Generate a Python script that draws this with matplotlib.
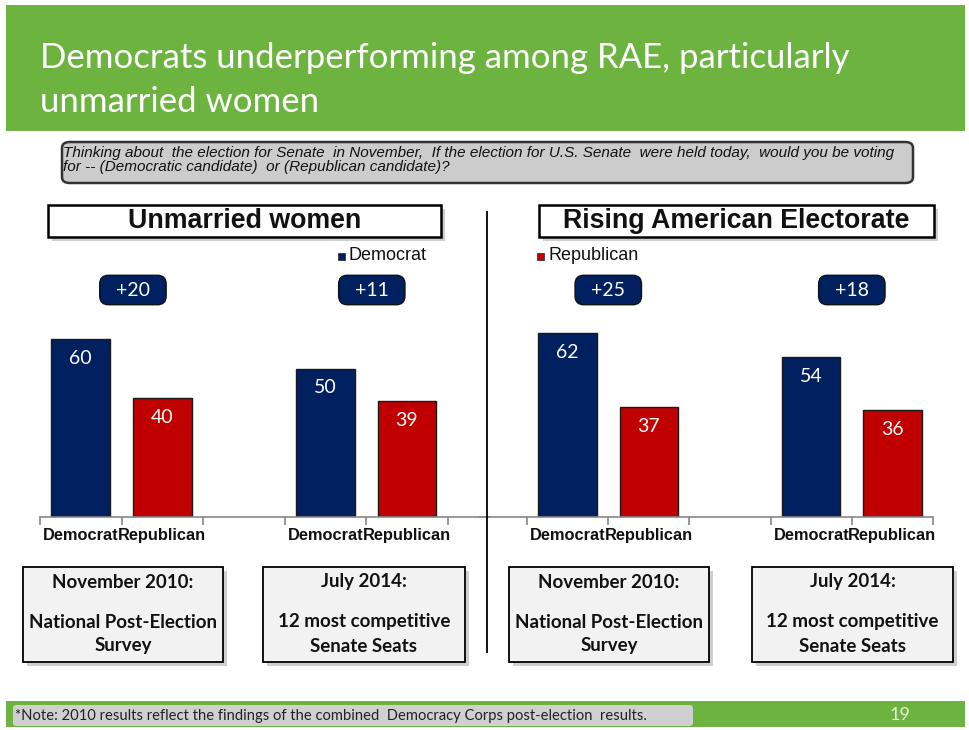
import numpy as np
import matplotlib
matplotlib.use('Agg')
import matplotlib.pyplot as plt
from matplotlib.patches import FancyBboxPatch, Rectangle
from matplotlib.transforms import blended_transform_factory

# data
panel_titles = ['Unmarried women', 'Rising American Electorate']
categories = ['Democrat', 'Republican', '', 'Democrat', 'Republican']
dem_values = [[60, 50], [62, 54]]
rep_values = [[40, 39], [37, 36]]
survey_heads = ['November 2010:', 'July 2014:']
survey_bodies = ['National Post-Election\nSurvey', '12 most competitive\nSenate Seats']
legend_labels = ['Democrat', 'Republican']

title = 'Democrats underperforming among RAE, particularly\nunmarried women'
question = ('Thinking about  the election for Senate  in November,  If the election for U.S. Senate  '
            'were held today,  would you be voting\nfor -- (Democratic candidate)  or (Republican candidate)?')
note = '*Note: 2010 results reflect the findings of the combined  Democracy Corps post-election  results.'
page = '19'

NAVY = '#002060'
RED = '#c00000'
GREEN = '#6db33f'

W, H = 969, 730
fig = plt.figure(figsize=(W / 100, H / 100), dpi=100, facecolor='white')


def fx(x):
    return x / W


def fy(y):
    return 1 - y / H


def box(x0, y0, x1, y1, fc, ec='none', lw=0, style='square,pad=0', shadow=False, z=1):
    if shadow:
        fig.patches.append(FancyBboxPatch((fx(x0 + 4), fy(y1 + 4)), fx(x1 - x0), (y1 - y0) / H,
                                          boxstyle=style, transform=fig.transFigure,
                                          fc='#b0b0b0', ec='none', alpha=0.6, zorder=z - 0.1))
    fig.patches.append(FancyBboxPatch((fx(x0), fy(y1)), fx(x1 - x0), (y1 - y0) / H,
                                      boxstyle=style, transform=fig.transFigure,
                                      fc=fc, ec=ec, lw=lw, zorder=z))


# header and footer bands
box(6, 5, 965, 131, GREEN)
fig.text(fx(40), fy(80), title, color='white', fontsize=25, family='Lato',
         va='center', ha='left', linespacing=1.45)
box(6, 701, 965, 727, GREEN)
box(13, 705, 693, 726, '#d0d0d0', style='round,pad=0,rounding_size=0.004')
fig.text(fx(15), fy(716), note, fontsize=10.6, family='Lato', va='center', color='#222222')
fig.text(fx(900), fy(715), page, fontsize=13, family='Lato', va='center', ha='center', color='#e8f0d8')

# question box
box(62, 142, 913, 183, '#cccccc', ec='#333333', lw=1.8, style='round,pad=0,rounding_size=0.008')
fig.text(fx(63), fy(160), question, fontsize=11, style='italic', family='Liberation Sans',
         va='center', ha='left', color='#111111', linespacing=0.95)

# divider
fig.add_artist(plt.Line2D([fx(487), fx(487)], [fy(212), fy(652)], color='black', lw=1.3))

header_px = [(48, 205, 441, 237), (539, 205, 934, 237)]
axes_px = [(40, 490, (-0.5, 5.02)), (480, 933, (-1.08, 4.5))]
diff_x = [[0.64, 3.57], [0.5, 3.5]]
legend_px = [(338, 256, NAVY), (537, 256, RED)]
survey_px = [[(23, 567, 223, 662), (263, 567, 465, 662)],
             [(509, 567, 709, 662), (752, 567, 953, 662)]]

base_y, px_per_unit, ymax = 517, 2.97, 70

for p in range(2):
    x0, y0, x1, y1 = header_px[p]
    box(x0, y0, x1, y1, 'white', ec='black', lw=1.8, shadow=True, z=2)
    fig.text(fx((x0 + x1) / 2), fy((y0 + y1) / 2), panel_titles[p], fontsize=19.3,
             weight='bold', family='Liberation Sans', ha='center', va='center', color='#111111', zorder=3)

    left, right, xl = axes_px[p]
    top = base_y - ymax * px_per_unit
    ax = fig.add_axes([fx(left), fy(base_y), fx(right - left), (base_y - top) / H])
    ax.patch.set_alpha(0)
    ax.set_xlim(*xl)
    ax.set_ylim(0, ymax)

    pos = np.array([0, 3])
    dem_bars = ax.bar(pos, dem_values[p], width=0.72, color=NAVY, edgecolor='#1a1a1a', lw=1)
    rep_bars = ax.bar(pos + 1, rep_values[p], width=0.72, color=RED, edgecolor='#1a1a1a', lw=1)
    for bars in (dem_bars, rep_bars):
        for b in bars:
            ax.annotate(f'{b.get_height():g}', (b.get_x() + b.get_width() / 2, b.get_height()),
                        xytext=(0, -14), textcoords='offset points', ha='center', va='center',
                        color='white', fontsize=14, family='Lato')

    trans = blended_transform_factory(ax.transData, fig.transFigure)
    for g in range(2):
        diff = dem_values[p][g] - rep_values[p][g]
        ax.text(diff_x[p][g], fy(290), f'  +{diff}  ', transform=trans, ha='center', va='center',
                color='white', fontsize=14, family='Lato', clip_on=False,
                bbox=dict(boxstyle='round,pad=0.32,rounding_size=0.45', fc=NAVY, ec='#111111', lw=1))

    for s in ['left', 'right', 'top']:
        ax.spines[s].set_visible(False)
    ax.spines['bottom'].set_color('#888888')
    ax.spines['bottom'].set_linewidth(1.2)
    ax.set_yticks([])
    ax.set_xticks(range(len(categories)))
    ax.set_xticklabels(categories, fontsize=11.8, weight='bold', family='Liberation Sans', color='#111111')
    ax.tick_params(axis='x', which='major', length=0, pad=8)
    ax.set_xticks(np.arange(-0.5, len(categories), 1.0), minor=True)
    ax.tick_params(axis='x', which='minor', length=6, color='#888888', width=1.2)

    # legend entries
    lx, ly, lc = legend_px[p]
    fig.patches.append(Rectangle((fx(lx), fy(ly + 4)), fx(7), 7 / H, transform=fig.transFigure,
                                 fc=lc, ec='#222222', lw=0.5))
    fig.text(fx(lx + 11), fy(ly), legend_labels[p], fontsize=13, family='Liberation Sans',
             va='center', color='#111111')

    # survey boxes
    for g in range(2):
        sx0, sy0, sx1, sy1 = survey_px[p][g]
        box(sx0, sy0, sx1, sy1, '#f2f2f2', ec='black', lw=1.3, shadow=True, z=2)
        cx = fx((sx0 + sx1) / 2)
        fig.text(cx, fy(sy0 + 15), survey_heads[g], fontsize=13.5, weight='bold', family='Lato',
                 ha='center', va='center', color='#111111', zorder=3)
        fig.text(cx, fy(sy0 + 67), survey_bodies[g], fontsize=13.5, weight='bold', family='Lato',
                 ha='center', va='center', color='#111111', linespacing=1.5, zorder=3)

fig.savefig('out.png', dpi=100, facecolor='white')
